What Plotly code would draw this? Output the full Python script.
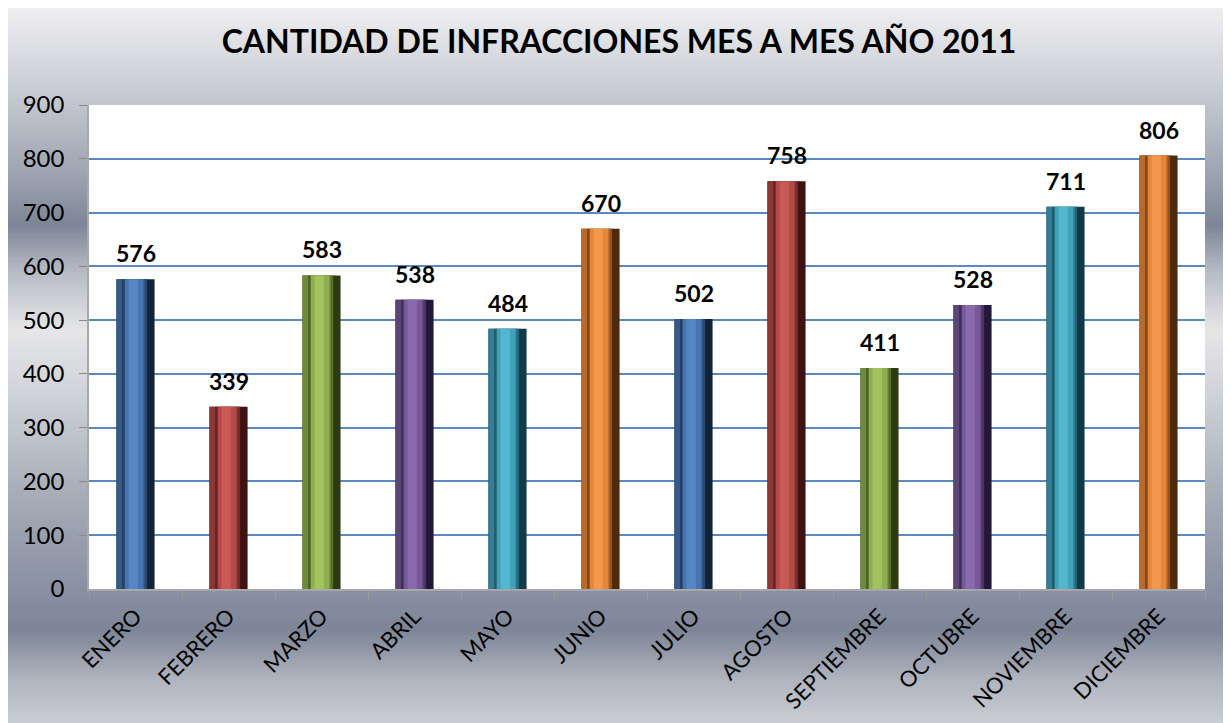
import plotly.graph_objects as go

meses = ["ENERO", "FEBRERO", "MARZO", "ABRIL", "MAYO", "JUNIO", "JULIO",
         "AGOSTO", "SEPTIEMBRE", "OCTUBRE", "NOVIEMBRE", "DICIEMBRE"]
infracciones = [576, 339, 583, 538, 484, 670, 502, 758, 411, 528, 711, 806]
y_ticks = [0, 100, 200, 300, 400, 500, 600, 700, 800, 900]

# office palette: edge, base, light, dark
paleta = [
    ("#36598a", "#4674b0", "#5687c4", "#13243a"),
    ("#8e3835", "#b5494a", "#c95955", "#3e1312"),
    ("#6f8a3b", "#8fae4f", "#a3c35f", "#2e3b12"),
    ("#5c4678", "#77599a", "#896bad", "#24183a"),
    ("#327e94", "#43a0b9", "#55b6cf", "#123a47"),
    ("#b8692b", "#e4853a", "#f3984c", "#4e2a0c"),
]
n = len(meses)
borde = [paleta[i % 6][0] for i in range(n)]
base = [paleta[i % 6][1] for i in range(n)]
claro = [paleta[i % 6][2] for i in range(n)]
oscuro = [paleta[i % 6][3] for i in range(n)]

fig = go.Figure()
# bevel look: overlays of the same bars at different widths
capas = [
    (0.41, -0.205, oscuro, 1.0),
    (0.33, -0.205, borde, 1.0),
    (0.22, -0.12, base, 1.0),
    (0.10, -0.075, claro, 1.0),
    (0.02, -0.135, oscuro, 0.5),
    (0.06, 0.085, oscuro, 0.35),
]
for ancho, desde, col, op in capas:
    fig.add_trace(go.Bar(x=meses, y=infracciones, width=ancho, offset=desde,
                         marker=dict(color=col, opacity=op, line=dict(width=0)),
                         hoverinfo="skip" if op < 1 else None))

for m, v in zip(meses, infracciones):
    fig.add_annotation(x=m, y=v, text="<b>%d</b>" % v, showarrow=False,
                       yshift=26, font=dict(family="Lato", size=23, color="black"))

# page is offset by the 8px body margin
off = 8
W, H = 1231, 723

# gray gradient background (screen row -> colour stops)
stops = [(0, (242, 242, 244)), (40, (224, 225, 229)), (100, (196, 199, 207)),
         (180, (154, 160, 174)), (225, (125, 133, 151)), (270, (181, 185, 195)),
         (330, (230, 230, 232)), (400, (205, 208, 214)), (500, (165, 170, 182)),
         (600, (134, 141, 160)), (630, (125, 133, 151)), (680, (176, 180, 190)),
         (740, (212, 214, 218))]


def color_at(p):
    for (p0, c0), (p1, c1) in zip(stops[:-1], stops[1:]):
        if p0 <= p <= p1:
            t = (p - p0) / (p1 - p0)
            return "rgb(%d,%d,%d)" % tuple(round(a + (b - a) * t) for a, b in zip(c0, c1))
    return "rgb(212,214,218)"


top_px, bot_px, left_px, right_px = 105 - off, 589 - off, 89 - off, 1205 - off
h = bot_px - top_px
w = right_px - left_px
shapes = []
step = 3
for p in range(0, H, step):
    shapes.append(dict(type="rect", xref="paper", yref="paper", layer="below",
                       x0=(0 - left_px) / w, x1=(W - left_px) / w,
                       y0=(bot_px - p - step - 1) / h, y1=(bot_px - p) / h,
                       fillcolor=color_at(p + off + step / 2), line=dict(width=0)))
shapes.append(dict(type="rect", xref="paper", yref="paper", layer="below",
                   x0=0, x1=1, y0=0, y1=1, fillcolor="white", line=dict(width=0)))

fig.update_layout(
    width=W, height=H,
    barmode="overlay",
    showlegend=False,
    margin=dict(l=left_px, r=W - right_px, t=top_px, b=H - bot_px),
    paper_bgcolor="#d4d6da",
    plot_bgcolor="white",
    shapes=shapes,
    font=dict(family="Lato", color="black"),
    title=dict(text="<b>CANTIDAD DE INFRACCIONES MES A MES AÑO 2011</b>",
               xref="container", x=(619 - off) / W, xanchor="center",
               y=1 - 34 / H, yanchor="middle",
               font=dict(family="Lato", size=32, color="black")),
    xaxis=dict(tickangle=-45, tickfont=dict(size=22), ticks="outside",
               tickson="boundaries", ticklen=8, tickcolor="#9a9a9a",
               ticklabelstandoff=4,
               showline=True, linecolor="#a8a8a8", linewidth=1.5,
               showgrid=False),
    yaxis=dict(range=[0, 900], tickvals=y_ticks, tickfont=dict(size=24),
               ticks="outside", ticklen=8, tickcolor="#8a8a8a",
               ticklabelstandoff=10,
               showline=True, linecolor="#a8a8a8", linewidth=1.5,
               showgrid=True, gridcolor="#5b87c2", gridwidth=1.6,
               zeroline=False),
)

fig.write_html("out.html")
